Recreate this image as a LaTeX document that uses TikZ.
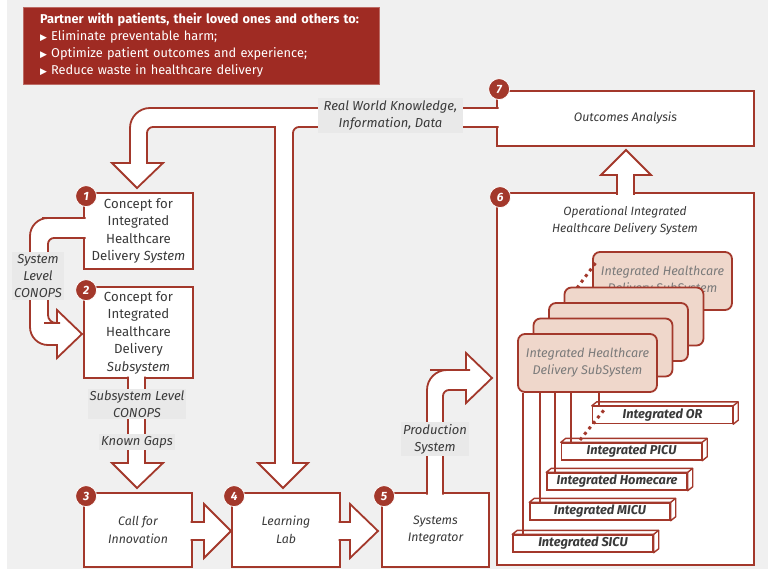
\documentclass[tikz,border=0pt]{standalone}
\usepackage{fontspec}
\setmainfont{Fira Sans}
\newfontfamily\symfont{DejaVu Sans}
\usepackage{tikz}

\definecolor{brick}{HTML}{A3382B}
\definecolor{banner}{HTML}{9F2B23}
\definecolor{bggray}{HTML}{F0F0F0}
\definecolor{lblgray}{HTML}{E9E9E9}
\definecolor{cardfill}{HTML}{EFD7CB}
\definecolor{txt}{HTML}{3A3A3A}
\definecolor{cardtxt}{HTML}{7A7A7A}

\begin{document}
\begin{tikzpicture}[
        x=1pt, y=-1pt,                 % 像素坐标
        box/.style={draw=brick, line width=1.8pt, fill=white, text=txt, align=center,
                    inner sep=0pt, font=\fontsize{13.2}{17.5}\selectfont},
        ibox/.style={box, font=\itshape\fontsize{12.3}{17.5}\selectfont},
        blk/.style={draw=brick, fill=white, line width=1.8pt},
        badge/.style={circle, fill=brick, draw=white, line width=0.8pt, text=white,
                      inner sep=0pt, minimum size=21pt,
                      font=\bfseries\itshape\fontsize{12}{12}\selectfont},
        lbl/.style={fill=lblgray, text=txt, align=center, inner sep=2pt,
                    font=\itshape\fontsize{13}{17}\selectfont},
        card/.style={draw=brick, line width=1.8pt, fill=cardfill, rounded corners=7pt,
                     minimum width=139pt, minimum height=58pt, text=cardtxt, align=center,
                     font=\itshape\fontsize{12.6}{17}\selectfont},
        unit/.style={draw=brick, line width=1.4pt, fill=white, minimum width=140pt,
                     minimum height=17pt, inner sep=0pt, text=txt,
                     font=\bfseries\itshape\fontsize{12.8}{12.8}\selectfont},
        unitedge/.style={draw=brick, line width=1.4pt, fill=white, line join=round},
        link/.style={draw=brick, line width=1.8pt},
        dots/.style={brick, line width=3pt, dash pattern=on 3pt off 4pt}
    ]
    \useasboundingbox (0,0) rectangle (775,569);
    \fill[bggray] (7,0) rectangle (768,569);

    % 目标
    \node[fill=banner, draw=banner!70!white, line width=0.6pt, minimum width=356pt,
          minimum height=77pt, text width=322pt, inner xsep=0pt, align=left, text=white,
          font=\fontsize{12.8}{17}\selectfont] (goals) at (201,45.5)
        {\textbf{Partner with patients, their loved ones and others to:}\\
         {\symfont\fontsize{9}{9}\selectfont ▶}\ Eliminate preventable harm;\\
         {\symfont\fontsize{9}{9}\selectfont ▶}\ Optimize patient outcomes and experience;\\
         {\symfont\fontsize{9}{9}\selectfont ▶}\ Reduce waste in healthcare delivery};

    % 方框
    \node[box, minimum width=109pt, minimum height=76pt] (b1) at (138.5,231)
        {Concept for\\Integrated\\Healthcare\\Delivery \textit{System}};
    \node[box, minimum width=109pt, minimum height=91pt] (b2) at (138.5,332.5)
        {Concept for\\Integrated\\Healthcare\\Delivery\\\textit{Subsystem}};
    \node[ibox, minimum width=108pt, minimum height=74pt] (b3) at (138,530) {Call for\\Innovation};
    \node[ibox, minimum width=108pt, minimum height=74pt] (b4) at (286,530) {Learning\\Lab};
    \node[ibox, minimum width=107pt, minimum height=74pt] (b5) at (435.5,530) {Systems\\Integrator};
    \node[box, minimum width=257pt, minimum height=372pt] (b6) at (625.5,379) {};
    \node[ibox, minimum width=257pt, minimum height=55pt] (b7) at (625.5,118.5) {Outcomes Analysis};

    % 空心箭头
    \filldraw[blk] (498.5,127) [rounded corners=6] -- (293,127) -- (293,300) [sharp corners]
        -- (293,463) -- (308,463) -- (283,488) -- (258,463) -- (275,463) -- (275,127)
        -- (200,127) [rounded corners=6] -- (147,127) -- (147,150) [sharp corners]
        -- (147,163) -- (163,163) -- (137,188) -- (112,163) -- (130,163)
        -- (130,150) [rounded corners=20] -- (130,108) -- (300,108) [sharp corners] -- (498.5,108);
    \filldraw[blk] (85.5,238) [rounded corners=6] -- (48,238) -- (48,280) [rounded corners=8]
        -- (48,323) -- (52,323) [sharp corners] -- (57,323) -- (57,310) -- (82,334) -- (57,358)
        -- (57,345) -- (50,345) [rounded corners=18] -- (30,345) -- (30,218) -- (60,218)
        [sharp corners] -- (85.5,218);
    \filldraw[blk] (128,376.5) -- (128,463) -- (112,463) -- (137,488) -- (163,463)
        -- (145,463) -- (145,376.5);
    \filldraw[blk] (190.5,522) -- (204,522) -- (204,504) -- (231,531) -- (204,558)
        -- (204,540) -- (190.5,540);
    \filldraw[blk] (338.5,522) -- (350,522) -- (350,504) -- (378,531) -- (350,558)
        -- (350,540) -- (338.5,540);
    \filldraw[blk] (427,494.5) -- (427,420) [rounded corners=20] -- (427,370) -- (450,370)
        [sharp corners] -- (466,370) -- (466,353) -- (492,378) -- (466,403) -- (466,390)
        -- (455,390) [rounded corners=6] -- (443,390) -- (443,420) [sharp corners] -- (443,494.5);
    \filldraw[blk] (617,195) -- (617,175) -- (601,175) -- (626,150) -- (651,175)
        -- (634,175) -- (634,195);

    % 标签
    \node[lbl, minimum width=145pt, minimum height=35pt] (rwk) at (390.5,115.5)
        {Real World Knowledge,\\Information, Data};
    \node[lbl, minimum width=50pt, minimum height=48pt] (slc) at (38,276) {System\\Level\\CONOPS};
    \node[lbl] (sslc) at (137,404) {Subsystem Level\\CONOPS};
    \node[lbl] (gaps) at (137,442) {Known Gaps};
    \node[lbl] (prod) at (435,439) {Production\\System};

    % 编号
    \foreach \b/\n/\s in {b1/1/{(3,4)}, b2/2/{(3,4)}, b3/3/{(3,4)}, b4/4/{(3,4)},
                          b5/5/{(3,4)}, b6/6/{(4,5)}, b7/7/{(3,-1)}}
        \node[badge] (n\n) at ([shift=\s]\b.north west) {\n};

    % 子系统
    \node[font=\itshape\fontsize{12}{17}\selectfont, text=txt, align=center] (title6)
        at (625,221) {Operational Integrated\\Healthcare Delivery System};
    \node[card] (c4) at (662.5,281) {Integrated Healthcare\\Delivery SubSystem};
    \draw[dots] (577,288) -- (597,261);
    \foreach \n/\cx/\cy in {3/634/316.5, 2/618.5/332, 1/603/347.5}
        \node[card] (c\n) at (\cx,\cy) {};
    \node[card] (c0) at (587.5,363) {Integrated Healthcare\\Delivery SubSystem};

    % 单元
    \foreach \u/\cx/\cy/\t in {sicu/583/543.5/SICU, micu/600/511.5/MICU,
                               home/617/481.5/Homecare, picu/631.5/451.5/PICU, or/662.5/415/OR} {
        \node[unit] (\u) at (\cx,\cy) {Integrated \t};
        \filldraw[unitedge] (\u.north west) -- ++(5,-4) -- ([shift={(5,-4)}]\u.north east)
            -- ([shift={(5,-4)}]\u.south east) -- (\u.south east) -- (\u.north east) -- cycle;
        \draw[unitedge] (\u.north east) -- ++(5,-4);
    }
    \foreach \u/\dx in {sicu/11, micu/11, home/9, picu/10, or/7} {
        \coordinate (top\u) at ([xshift=\dx pt]\u.north west);
        \draw[link] (top\u) -- (top\u |- c0.south);
    }
    \draw[dots] (580,440) -- (604,410);
\end{tikzpicture}
\end{document}
